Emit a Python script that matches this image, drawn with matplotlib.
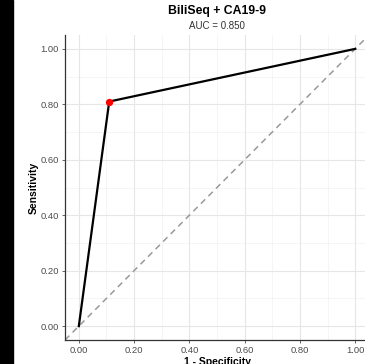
import matplotlib
matplotlib.use("Agg")
import matplotlib.pyplot as plt
from matplotlib.patches import Rectangle
import numpy as np

plt.rcParams['font.family'] = ['Liberation Sans', 'DejaVu Sans']

fpr = [0.0, 0.11, 1.0]
tpr = [0.0, 0.81, 1.0]
point_fpr = [0.11]
point_tpr = [0.81]
ticks = [0.0, 0.2, 0.4, 0.6, 0.8, 1.0]
tick_labels = ["0.00", "0.20", "0.40", "0.60", "0.80", "1.00"]
minor = [0.1, 0.3, 0.5, 0.7, 0.9]
title = "BiliSeq + CA19-9"
subtitle = "AUC = 0.850"

fig = plt.figure(figsize=(3.65, 3.64), dpi=100)
fig.patches.append(Rectangle((0, 0), 13/365, 1, transform=fig.transFigure, color='black', zorder=10))

ax = fig.add_axes([65/365, 1-340/364, 304/365, 305/364])
ax.set_xlim(-0.05, 1.05)
ax.set_ylim(-0.05, 1.05)

for v in minor:
    ax.axvline(v, color='#f2f2f2', lw=0.5, zorder=0)
    ax.axhline(v, color='#f2f2f2', lw=0.5, zorder=0)
for v in ticks:
    ax.axvline(v, color='#e6e6e6', lw=0.8, zorder=0)
    ax.axhline(v, color='#e6e6e6', lw=0.8, zorder=0)

ax.plot([-0.05, 1.05], [-0.05, 1.05], color='#999999', lw=1.1, ls=(0, (4, 3)), zorder=1)
ax.plot(fpr, tpr, color='black', lw=1.6, zorder=2)
ax.scatter(point_fpr, point_tpr, color='red', s=18, zorder=3)

ax.set_xticks(ticks)
ax.set_xticklabels(tick_labels)
ax.set_yticks(ticks)
ax.set_yticklabels(tick_labels)
ax.tick_params(labelsize=6.8, colors='#4d4d4d', length=2.5, width=0.6, pad=2)
for s in ['top', 'right']:
    ax.spines[s].set_visible(False)
for s in ['left', 'bottom']:
    ax.spines[s].set_color('#333333')
    ax.spines[s].set_linewidth(0.9)

ax.set_xlabel("1 - Specificity", fontsize=7.5, fontweight='bold', labelpad=1)
ax.set_ylabel("Sensitivity", fontsize=7.5, fontweight='bold', labelpad=1)

fig.text(217/365, 1-11/364, title, ha='center', va='center', fontsize=8.8, fontweight='bold')
fig.text(217/365, 1-26/364, subtitle, ha='center', va='center', fontsize=7, color='#333333')

fig.savefig("out.png", dpi=100)
